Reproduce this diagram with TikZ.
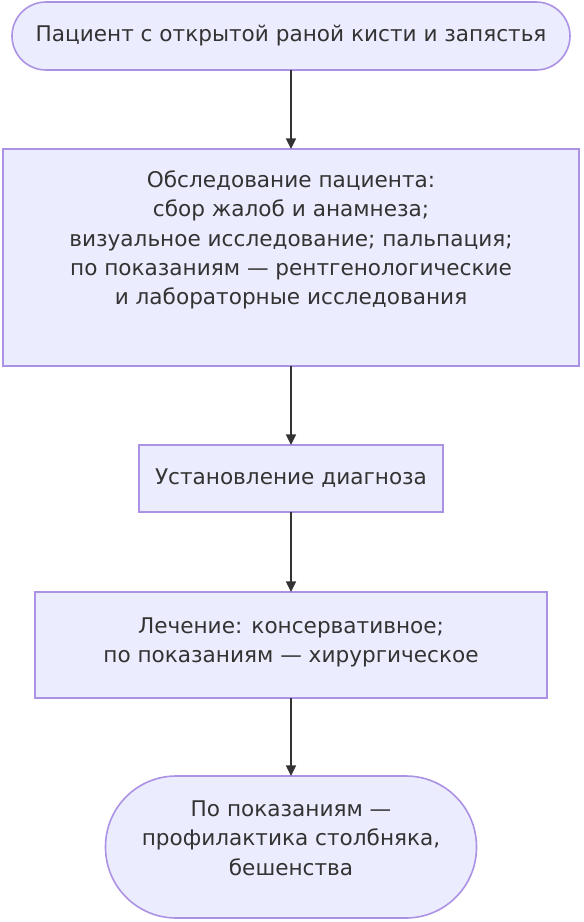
\documentclass[tikz,border=0pt]{standalone}
\usepackage{fontspec}
\setmainfont{DejaVu Sans}
\usetikzlibrary{positioning,calc,arrows.meta}
\definecolor{NodeFill}{HTML}{ECECFF}
\definecolor{NodeLine}{HTML}{AC92E4}
\definecolor{TextGray}{HTML}{333333}

\begin{document}
\begin{tikzpicture}[x=0.75pt,y=-0.75pt]
        % Styles of the flowchart
        \tikzstyle{box} = [
            draw=NodeLine,
            fill=NodeFill,
            line width=1.2pt,
            text=TextGray,
            font=\fontsize{16.2}{22}\selectfont,
            align=center,
            inner sep=0pt,
            outer sep=0pt
        ]
        \tikzstyle{boxtext} = [text=TextGray, font=\fontsize{16.2}{22}\selectfont, align=center]
        \tikzstyle{link} = [draw=TextGray, line width=1.3pt, -{Triangle[length=8pt,width=7.5pt]}]

        \useasboundingbox (0,0) rectangle (583,922);

        % Start
        \node[box, minimum width=418.5pt, minimum height=51pt, rounded corners=25.5pt] (start) at (291,36)
            {Пациент с открытой раной кисти и запястья};

        % Examination
        \node[box, minimum width=432pt, minimum height=162.75pt] (exam) at (291,257.5) {};
        \node[boxtext] (examtext) at ($(exam.center)+(0,-17.5)$)
            {Обследование пациента:\\
             сбор жалоб и анамнеза;\\
             визуальное исследование; пальпация;\\
             по показаниям — рентгенологические\\
             и лабораторные исследования};

        % Diagnosis
        \node[box, minimum width=228pt, minimum height=50.25pt] (diag) at (291,478.5) {Установление диагноза};

        % Treatment
        \node[box, minimum width=384pt, minimum height=79.5pt] (treat) at (291,645) {};
        \node[boxtext] (treattext) at ($(treat.center)+(0,-2.5)$)
            {Лечение: консервативное;\\по показаниям — хирургическое};

        % Prophylaxis
        \node[box, minimum width=278.25pt, minimum height=106.5pt, rounded corners=53pt] (prev) at (291,847) {};
        \node[boxtext] (prevtext) at ($(prev.center)+(0,-9)$)
            {По показаниям —\\профилактика столбняка,\\бешенства};

        \draw[link] (start.south) -- (exam.north);
        \draw[link] (exam.south) -- (diag.north);
        \draw[link] (diag.south) -- (treat.north);
        \draw[link] (treat.south) -- (prev.north);
    \end{tikzpicture}
\end{document}
